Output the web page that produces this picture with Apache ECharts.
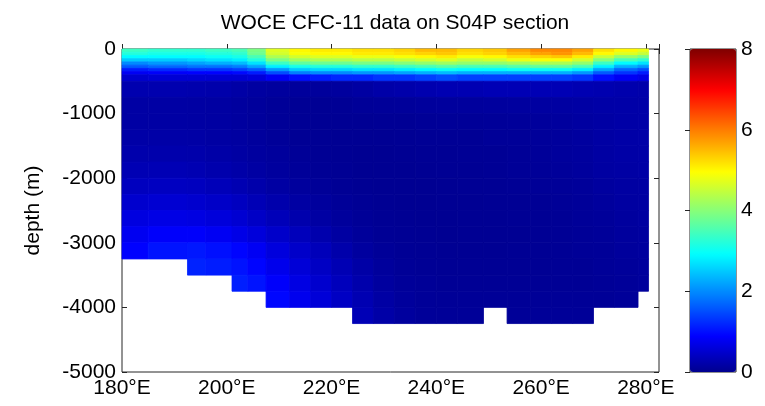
<!DOCTYPE html>
<html><head><meta charset="utf-8">
<script src="https://cdn.jsdelivr.net/npm/echarts@6/dist/echarts.min.js"></script>
<style>html,body{margin:0;padding:0;background:#fff}#c{width:765px;height:406px}</style>
</head><body><div id="c"></div>
<script>
// Longitude cell edges (deg E) and depth cell edges (m)
const lonEdges = [180,185,192.5,196,201,204,207.5,212,216,220,224,228,232,236,240,244,249,253.5,258,262,266,270,274,278.5,280.5];
const depthEdges = [0,50,100,150,200,250,300,350,400,500,750,1000,1250,1500,1750,2000,2250,2500,2750,3000,3250,3500,3750,4000,4250];

// CFC-11 (pmol/kg) per depth layer, one value per longitude cell (null = below sea floor)
const cfc_0_50      = [3.4,3.3,3.3,3.4,3.5,3.9,4.7,5.0,5.1,5.1,5.2,5.2,5.3,5.5,5.5,5.3,5.4,5.7,5.9,5.9,5.7,5.2,5.0,4.8];
const cfc_50_100    = [3.2,3.1,3.1,3.2,3.3,3.8,4.6,4.9,5.0,5.0,5.1,5.1,5.2,5.3,5.4,5.2,5.3,5.5,5.7,5.8,5.5,5.0,4.7,4.5];
const cfc_100_150   = [2.9,2.9,2.9,3.0,3.1,3.5,4.3,4.6,4.7,4.7,4.8,4.8,4.9,5.0,5.1,4.9,5.0,5.2,5.3,5.4,5.1,4.5,4.1,3.9];
const cfc_150_200   = [2.5,2.5,2.6,2.7,2.8,3.2,3.9,4.2,4.3,4.3,4.4,4.4,4.5,4.6,4.7,4.5,4.6,4.8,4.9,4.9,4.6,4.0,3.5,3.3];
const cfc_200_250   = [2.0,2.1,2.2,2.3,2.4,2.7,3.4,3.7,3.8,3.8,3.9,3.9,4.0,4.1,4.2,4.1,4.1,4.2,4.3,4.3,4.1,3.4,2.9,2.7];
const cfc_250_300   = [1.6,1.7,1.8,1.8,1.9,2.2,2.8,3.1,3.2,3.2,3.3,3.3,3.4,3.5,3.6,3.5,3.5,3.6,3.7,3.7,3.5,2.8,2.3,2.1];
const cfc_300_350   = [1.1,1.2,1.3,1.3,1.4,1.6,2.1,2.5,2.6,2.6,2.7,2.7,2.8,2.9,3.0,2.9,2.9,3.0,3.0,3.0,2.8,2.2,1.7,1.5];
const cfc_350_400   = [0.8,0.85,0.9,0.9,0.95,1.1,1.5,1.9,2.0,2.0,2.1,2.1,2.2,2.3,2.4,2.3,2.3,2.3,2.3,2.3,2.1,1.6,1.3,1.1];
const cfc_400_500   = [0.5,0.55,0.55,0.55,0.55,0.6,0.8,1.0,1.1,1.2,1.2,1.3,1.3,1.4,1.5,1.4,1.4,1.4,1.4,1.4,1.3,1.0,0.8,0.7];
const cfc_500_750   = [0.25,0.25,0.24,0.22,0.18,0.14,0.12,0.1,0.1,0.12,0.15,0.2,0.22,0.25,0.28,0.28,0.3,0.3,0.3,0.3,0.28,0.26,0.24,0.22];
const cfc_750_1000  = [0.17,0.17,0.16,0.15,0.13,0.1,0.07,0.05,0.04,0.05,0.07,0.08,0.09,0.1,0.11,0.11,0.12,0.13,0.14,0.15,0.17,0.19,0.2,0.2];
const cfc_1000_1250 = [0.17,0.17,0.16,0.15,0.13,0.1,0.07,0.05,0.04,0.04,0.04,0.05,0.05,0.06,0.07,0.07,0.08,0.09,0.1,0.12,0.14,0.17,0.19,0.2];
const cfc_1250_1500 = [0.19,0.19,0.18,0.16,0.14,0.11,0.08,0.05,0.04,0.03,0.03,0.03,0.04,0.05,0.05,0.05,0.07,0.07,0.09,0.1,0.13,0.17,0.19,0.2];
const cfc_1500_1750 = [0.23,0.23,0.22,0.19,0.16,0.13,0.1,0.06,0.04,0.03,0.02,0.02,0.03,0.04,0.04,0.05,0.05,0.06,0.08,0.1,0.12,0.16,0.18,0.19];
const cfc_1750_2000 = [0.29,0.3,0.28,0.24,0.2,0.16,0.12,0.08,0.05,0.04,0.02,0.02,0.02,0.03,0.04,0.04,0.05,0.06,0.07,0.09,0.11,0.15,0.17,0.18];
const cfc_2000_2250 = [0.38,0.4,0.38,0.33,0.28,0.22,0.16,0.11,0.07,0.05,0.03,0.02,0.02,0.02,0.03,0.04,0.04,0.05,0.06,0.07,0.09,0.13,0.15,0.16];
const cfc_2250_2500 = [0.5,0.53,0.5,0.45,0.39,0.31,0.23,0.16,0.11,0.07,0.05,0.03,0.02,0.02,0.03,0.03,0.04,0.04,0.05,0.06,0.08,0.11,0.14,0.15];
const cfc_2500_2750 = [0.64,0.68,0.66,0.6,0.53,0.44,0.33,0.24,0.16,0.1,0.06,0.04,0.03,0.02,0.02,0.03,0.03,0.04,0.04,0.05,0.07,0.09,0.12,0.14];
const cfc_2750_3000 = [0.78,0.86,0.86,0.79,0.7,0.6,0.47,0.35,0.24,0.15,0.09,0.05,0.04,0.03,0.02,0.03,0.03,0.03,0.04,0.05,0.06,0.08,0.11,0.13];
const cfc_3000_3250 = [0.9,1.04,1.07,1.01,0.92,0.8,0.62,0.47,0.34,0.22,0.13,0.07,0.05,0.04,0.03,0.03,0.03,0.04,0.04,0.05,0.06,0.07,0.1,0.12];
const cfc_3250_3500 = [null,null,1.16,1.11,1.03,0.92,0.74,0.57,0.42,0.29,0.18,0.1,0.06,0.05,0.04,0.04,0.04,0.04,0.04,0.05,0.05,0.07,0.09,0.11];
const cfc_3500_3750 = [null,null,null,null,1.13,1.04,0.86,0.67,0.5,0.36,0.23,0.13,0.08,0.06,0.05,0.05,0.05,0.05,0.05,0.05,0.05,0.06,0.08,0.1];
const cfc_3750_4000 = [null,null,null,null,null,null,0.94,0.75,0.58,0.42,0.28,0.17,0.1,0.07,0.06,0.06,0.06,0.06,0.06,0.06,0.06,0.06,0.08,null];
const cfc_4000_4250 = [null,null,null,null,null,null,null,null,null,null,0.31,0.19,0.12,0.08,0.07,0.07,null,0.07,0.07,0.07,0.07,null,null,null];

const cfcLayers = [cfc_0_50,cfc_50_100,cfc_100_150,cfc_150_200,cfc_200_250,cfc_250_300,cfc_300_350,cfc_350_400,
  cfc_400_500,cfc_500_750,cfc_750_1000,cfc_1000_1250,cfc_1250_1500,cfc_1500_1750,cfc_1750_2000,cfc_2000_2250,
  cfc_2250_2500,cfc_2500_2750,cfc_2750_3000,cfc_3000_3250,cfc_3250_3500,cfc_3500_3750,cfc_3750_4000,cfc_4000_4250];

const lonTicks = [180,200,220,240,260,280];
const depthTicks = [0,-1000,-2000,-3000,-4000,-5000];
const cbarTicks = [0,2,4,6,8];

// MATLAB jet(64) colormap
function jet64(){
  const n=16, u=[];
  for(let i=1;i<=n;i++)u.push(i/n);
  for(let i=0;i<n-1;i++)u.push(1);
  for(let i=n;i>=1;i--)u.push(i/n);
  const cols=[];
  for(let idx=1;idx<=64;idx++){
    const ch=off=>{const k=idx-off; return (k>=1&&k<=u.length)?u[k-1]:0;};
    const g=ch(8), r=ch(24), b=ch(-8);
    const h=v=>Math.round(v*255).toString(16).padStart(2,'0');
    cols.push('#'+h(r)+h(g)+h(b));
  }
  return cols;
}

const cells=[];
cfcLayers.forEach((row,i)=>{
  row.forEach((v,j)=>{
    if(v!==null) cells.push([lonEdges[j],lonEdges[j+1],-depthEdges[i],-depthEdges[i+1],v]);
  });
});

const FONT='"Liberation Sans", Arial, sans-serif';
const axisCol='#262626';
const chart=echarts.init(document.getElementById('c'),null,{renderer:'canvas'});
chart.setOption({
  backgroundColor:'#fff',
  animation:false,
  title:{text:'WOCE CFC-11 data on S04P section',left:390,top:8,textAlign:'center',
    textStyle:{fontFamily:FONT,fontSize:21,fontWeight:'normal',color:'#000'}},
  grid:[
    {left:122,top:49,width:537,height:323,show:true,borderColor:axisCol,borderWidth:1,backgroundColor:'transparent'},
    {left:690,top:49,width:46,height:323,show:true,borderColor:axisCol,borderWidth:1,backgroundColor:'transparent'}
  ],
  xAxis:[
    {type:'value',gridIndex:0,min:180,max:282.5,interval:20,position:'bottom',
     axisLine:{show:false},splitLine:{show:false},
     axisTick:{inside:true,length:5,lineStyle:{color:axisCol}},
     axisLabel:{margin:6,fontFamily:FONT,fontSize:21,color:'#000',
       formatter:v=>lonTicks.includes(v)?v+'°E':''}},
    {type:'value',gridIndex:0,min:180,max:282.5,interval:20,position:'top',
     axisLine:{show:false},splitLine:{show:false},axisLabel:{show:false},
     axisTick:{inside:true,length:5,lineStyle:{color:axisCol}}},
    {type:'value',gridIndex:1,min:0,max:1,show:false}
  ],
  yAxis:[
    {type:'value',gridIndex:0,min:-5000,max:0,interval:1000,position:'left',
     name:'depth (m)',nameLocation:'middle',nameGap:78,
     nameTextStyle:{fontFamily:FONT,fontSize:21,color:'#000'},
     axisLine:{show:false},splitLine:{show:false},
     axisTick:{inside:true,length:5,lineStyle:{color:axisCol}},
     axisLabel:{margin:6,fontFamily:FONT,fontSize:21,color:'#000',
       formatter:v=>depthTicks.includes(v)?String(v):''}},
    {type:'value',gridIndex:0,min:-5000,max:0,interval:1000,position:'right',
     axisLine:{show:false},splitLine:{show:false},axisLabel:{show:false},
     axisTick:{inside:true,length:5,lineStyle:{color:axisCol}}},
    {type:'value',gridIndex:1,min:0,max:8,interval:2,position:'right',
     axisLine:{show:false},splitLine:{show:false},
     axisTick:{inside:true,length:5,lineStyle:{color:axisCol}},
     axisLabel:{margin:5,fontFamily:FONT,fontSize:21,color:'#000',
       formatter:v=>cbarTicks.includes(v)?String(v):''}}
  ],
  visualMap:{type:'continuous',min:0,max:8,dimension:4,seriesIndex:0,calculable:false,
    orient:'vertical',left:690,top:49,itemWidth:46,itemHeight:323,padding:0,
    text:null,showLabel:false,hoverLink:false,
    inRange:{color:jet64()}},
  series:[{
    type:'custom',xAxisIndex:0,yAxisIndex:0,
    encode:{x:[0,1],y:[2,3]},
    data:cells,
    renderItem:(params,api)=>{
      const p0=api.coord([api.value(0),api.value(2)]);
      const p1=api.coord([api.value(1),api.value(3)]);
      const col=api.visual('color');
      return {type:'rect',shape:{x:p0[0],y:p0[1],width:p1[0]-p0[0],height:p1[1]-p0[1]},
        style:{fill:col,stroke:col,lineWidth:0.8}};
    }
  }]
});
</script></body></html>
